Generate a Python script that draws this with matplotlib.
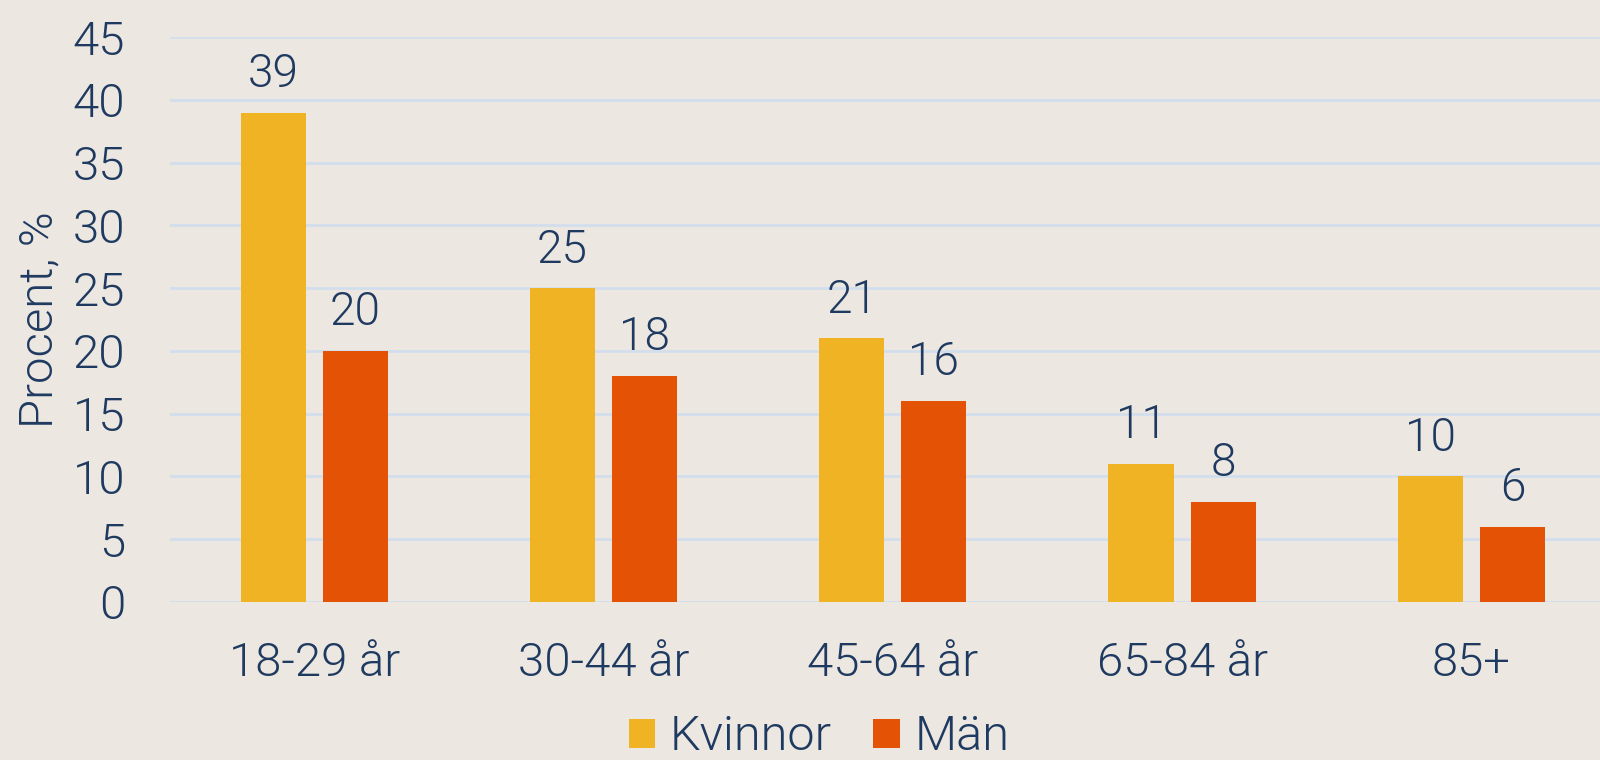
"""
Andel per åldersgrupp, kvinnor och män
"""
import matplotlib
matplotlib.use('Agg')
import matplotlib.pyplot as plt
import numpy as np

categories = ['18-29 år', '30-44 år', '45-64 år', '65-84 år', '85+']
kvinnor = [39, 25, 21, 11, 10]
man = [20, 18, 16, 8, 6]
series_names = ['Kvinnor', 'Män']
yticks = [0, 5, 10, 15, 20, 25, 30, 35, 40, 45]

BG = '#ece7e1'
TEXT = '#1f3a60'
GRID = '#d3deed'
COLORS = ['#f0b323', '#e35205']

plt.rcParams['font.family'] = ['Roboto', 'DejaVu Sans']
plt.rcParams['font.weight'] = 300
plt.rcParams['axes.labelweight'] = 300

fig = plt.figure(figsize=(16, 7.6), dpi=100, facecolor=BG)
# categories are a bit wider than the visible area, the right edge is clipped
ax = fig.add_axes([0.106, 0.208, 0.904, 0.743], facecolor=BG)

x = np.arange(len(categories))
width = 0.225
offset = 0.142

bars1 = ax.bar(x - offset, kvinnor, width, color=COLORS[0], label=series_names[0], zorder=3)
bars2 = ax.bar(x + offset, man, width, color=COLORS[1], label=series_names[1], zorder=3)

for bars in (bars1, bars2):
    for bar in bars:
        h = bar.get_height()
        ax.annotate(f'{h:.0f}', xy=(bar.get_x() + bar.get_width() / 2, h),
                    xytext=(0, 12), textcoords='offset points',
                    ha='center', va='bottom', fontsize=33, color=TEXT, weight=300)

ax.set_xlim(-0.5, len(categories) - 0.5)
ax.set_ylim(0, 45)
ax.set_yticks(yticks)
ax.set_xticks(x)
ax.set_xticklabels(categories)
ax.tick_params(axis='y', length=0, pad=32, labelsize=34, labelcolor=TEXT)
ax.tick_params(axis='x', length=0, pad=28, labelsize=34, labelcolor=TEXT)
for lbl in ax.get_xticklabels() + ax.get_yticklabels():
    lbl.set_fontweight(300)
ax.grid(axis='y', color=GRID, linewidth=2, zorder=0)
for s in ax.spines.values():
    s.set_visible(False)

ax.set_ylabel('Procent, %', fontsize=34, color=TEXT, labelpad=8, weight=300)

leg = fig.legend(loc='lower center', bbox_to_anchor=(0.512, -0.058), ncol=2, frameon=False,
                 fontsize=35, labelcolor=TEXT, handlelength=0.54, handleheight=0.54,
                 handletextpad=0.3, columnspacing=0.85)
for t in leg.get_texts():
    t.set_fontweight(300)

plt.savefig('out.png', dpi=100, facecolor=BG)
plt.close()
